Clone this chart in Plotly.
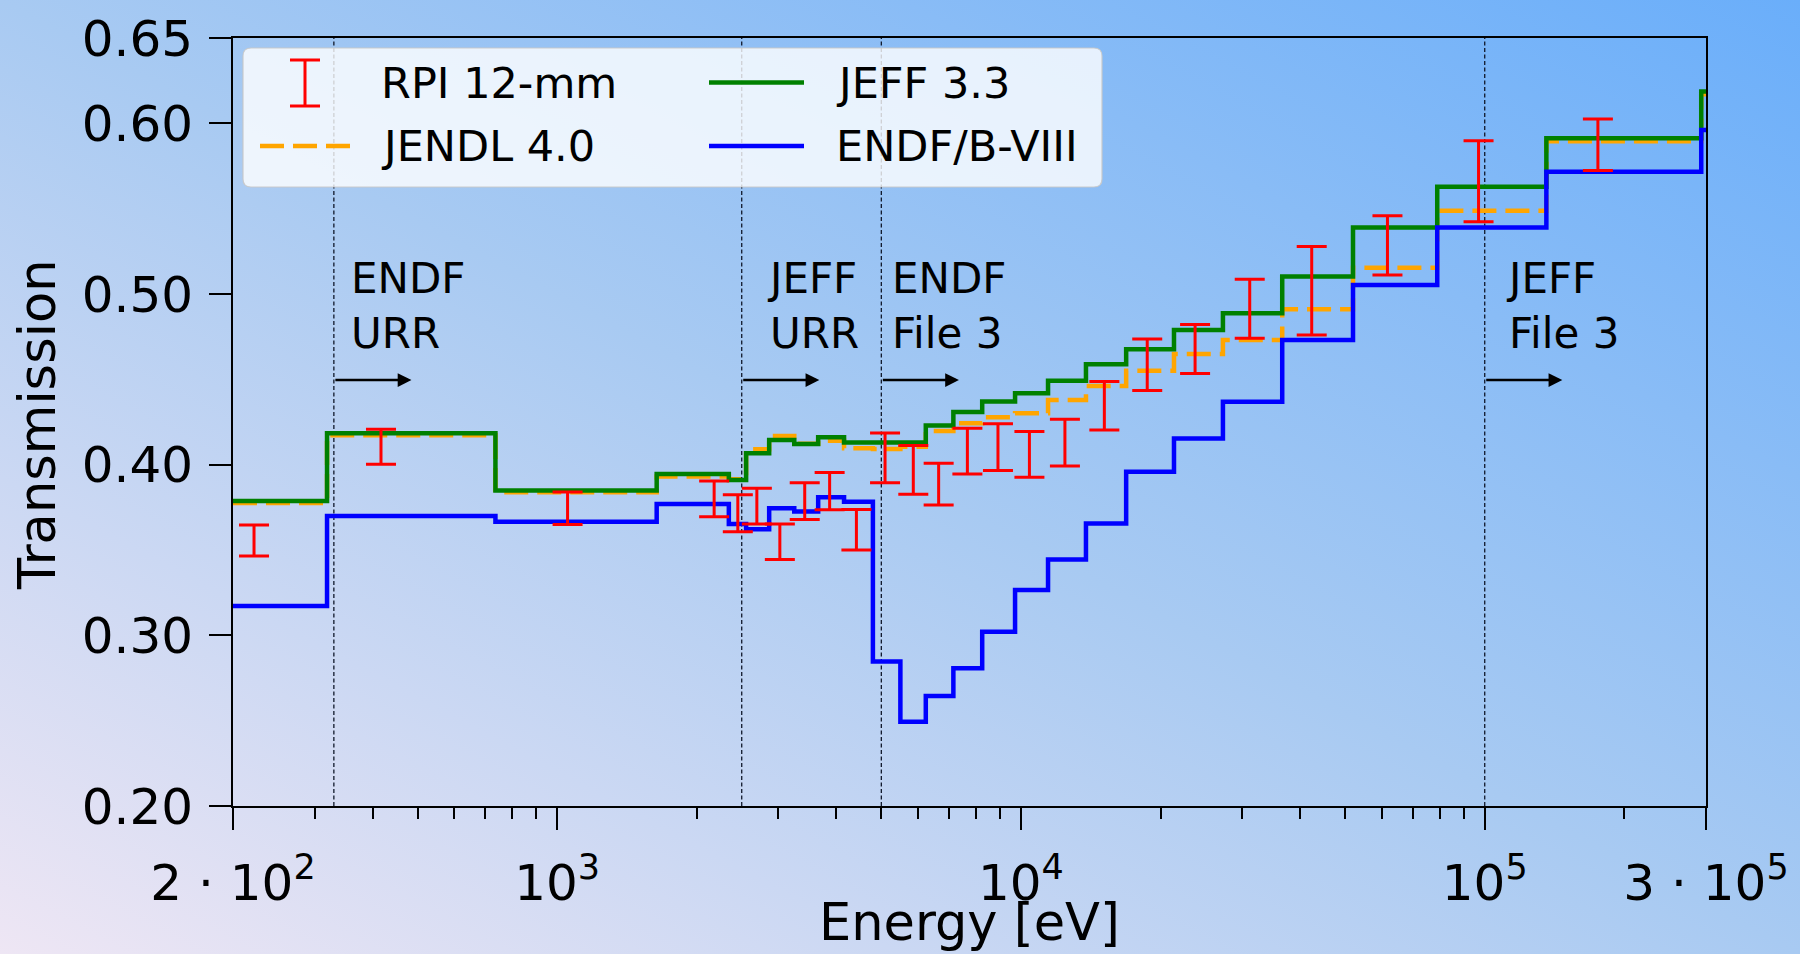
import base64
import math
import plotly.graph_objects as go

# ---------------- data ----------------
bin_edges = [200, 319, 736, 1639, 2345, 2555, 2865, 3245, 3654, 4155, 4795, 5496,
             6235, 7150, 8250, 9712, 11440, 13810, 16860, 21380, 27260, 36590,
             52000, 79000, 135800, 293000, 300000]

jeff33 = [0.3787, 0.4184, 0.3848, 0.3945, 0.3910, 0.4067, 0.4145, 0.4121, 0.4160,
          0.4130, 0.4130, 0.4130, 0.4230, 0.4308, 0.4370, 0.4418, 0.4492, 0.4588,
          0.4676, 0.4789, 0.4887, 0.5102, 0.5389, 0.5629, 0.5912, 0.6186]

endf8 = [0.3172, 0.3699, 0.3666, 0.3770, 0.3652, 0.3621, 0.3745, 0.3725, 0.3809,
         0.3783, 0.2846, 0.2494, 0.2645, 0.2807, 0.3021, 0.3266, 0.3445, 0.3656,
         0.3959, 0.4154, 0.4369, 0.4730, 0.5053, 0.5389, 0.5717, 0.5961]

jendl40 = [0.3775, 0.4172, 0.3838, 0.3930, 0.3915, 0.4090, 0.4168, 0.4122, 0.4140,
           0.4096, 0.4092, 0.4105, 0.4197, 0.4242, 0.4278, 0.4301, 0.4379, 0.4461,
           0.4551, 0.4648, 0.4730, 0.4910, 0.5154, 0.5488, 0.5895, 0.6170]

rpi_energy = [222, 417, 1053, 2180, 2452, 2695, 3021, 3418, 3868, 4418, 5093, 5860,
              6646, 7665, 8922, 10430, 12440, 15130, 18720, 23740, 31140, 42360,
              61700, 96980, 175400]
rpi_trans = [0.3556, 0.4105, 0.3745, 0.3800, 0.3715, 0.3757, 0.3549, 0.3786, 0.3845,
             0.3619, 0.4040, 0.3970, 0.3886, 0.4079, 0.4103, 0.4060, 0.4129, 0.4345,
             0.4585, 0.4678, 0.4913, 0.5019, 0.5285, 0.5661, 0.5874]
rpi_err = [0.0091, 0.0103, 0.0095, 0.0105, 0.0108, 0.0105, 0.0104, 0.0108, 0.0109,
           0.0119, 0.0146, 0.0143, 0.0122, 0.0134, 0.0137, 0.0134, 0.0137, 0.0142,
           0.0151, 0.0144, 0.0173, 0.0259, 0.0174, 0.0237, 0.0151]

region_edges = [330, 2500, 5000, 1e5]
region_label_energy = [361, 2850, 5300, 111700]
region_labels = ["ENDF<br>URR", "JEFF<br>URR", "ENDF<br>File 3", "JEFF<br>File 3"]
arrow_factor = 1.47
arrow_level = 0.4496
label_level = 0.493

x_range = [200, 3e5]
y_range = [0.20, 0.65]
x_tickvals = [200, 1e3, 1e4, 1e5, 3e5]
x_ticktext = ["2 · 10<sup>2</sup>", "10<sup>3</sup>", "10<sup>4</sup>",
              "10<sup>5</sup>", "3 · 10<sup>5</sup>"]
y_tickvals = [0.20, 0.30, 0.40, 0.50, 0.60, 0.65]
y_ticktext = ["0.20", "0.30", "0.40", "0.50", "0.60", "0.65"]

legend_names = ["RPI 12-mm", "JENDL 4.0", "JEFF 3.3", "ENDF/B-VIII"]
x_title = "Energy [eV]"
y_title = "Transmission"

# ---------------- styling ----------------
FONT = "DejaVu Sans"
W, H = 1800, 954
M_L, M_R, M_T, M_B = 233, 94, 38, 148
PW, PH = W - M_L - M_R, H - M_T - M_B

C_RED, C_ORANGE, C_GREEN, C_BLUE = "#ff0000", "#ffa500", "#008000", "#0000ff"
LW = 4.5
ORANGE_DASH = "24px,9px"

minor_vals = [m * 10 ** k for k in range(2, 6) for m in range(1, 10)
              if x_range[0] < m * 10 ** k < x_range[1] and m * 10 ** k not in x_tickvals]

def px_x(px):
    return (px - M_L) / PW

def px_y(py):
    return 1 - (py - M_T) / PH

# background gradient as an inline SVG image
svg = f"""<svg xmlns="http://www.w3.org/2000/svg" width="{W}" height="{H}" viewBox="0 0 {W} {H}" preserveAspectRatio="none">
<defs><linearGradient id="g" x1="0" y1="1" x2="1" y2="0">
<stop offset="0" stop-color="#eee6f4"/>
<stop offset="0.5" stop-color="#a8caf2"/>
<stop offset="1" stop-color="#6aaefa"/>
</linearGradient></defs>
<rect width="{W}" height="{H}" fill="url(#g)"/></svg>"""
bg_uri = "data:image/svg+xml;base64," + base64.b64encode(svg.encode()).decode()

fig = go.Figure()

# region boundary lines
vx, vy = [], []
for e in region_edges:
    vx += [e, e, None]
    vy += [y_range[0], y_range[1], None]
fig.add_trace(go.Scatter(x=vx, y=vy, mode="lines", hoverinfo="skip",
                         line=dict(color="#10182a", width=1.3, dash="4px,2.5px")))

def step_xy(values):
    return bin_edges, list(values) + [values[-1]]

x, y = step_xy(jendl40)
fig.add_trace(go.Scatter(x=x, y=y, mode="lines", line_shape="hv", name=legend_names[1],
                         line=dict(color=C_ORANGE, width=LW, dash=ORANGE_DASH)))
x, y = step_xy(jeff33)
fig.add_trace(go.Scatter(x=x, y=y, mode="lines", line_shape="hv", name=legend_names[2],
                         line=dict(color=C_GREEN, width=LW)))
x, y = step_xy(endf8)
fig.add_trace(go.Scatter(x=x, y=y, mode="lines", line_shape="hv", name=legend_names[3],
                         line=dict(color=C_BLUE, width=LW)))
fig.add_trace(go.Scatter(x=rpi_energy, y=rpi_trans, mode="markers", name=legend_names[0],
                         marker=dict(size=2, color=C_RED, opacity=0),
                         error_y=dict(type="data", array=rpi_err, color=C_RED,
                                      thickness=3, width=15)))

# region labels and arrows
for e, le, lab in zip(region_edges, region_label_energy, region_labels):
    fig.add_annotation(x=math.log10(e * arrow_factor), y=arrow_level,
                       ax=math.log10(e), ay=arrow_level, xref="x", yref="y",
                       axref="x", ayref="y", text="", showarrow=True, arrowhead=2,
                       arrowsize=1.1, arrowwidth=2.5, arrowcolor="black",
                       standoff=0, startstandoff=0)
    fig.add_annotation(x=math.log10(le), y=label_level, xref="x", yref="y", text=lab,
                       showarrow=False, xanchor="left", yanchor="middle", align="left",
                       xshift=-3, font=dict(size=42, family=FONT, color="black"))

# axis titles
fig.add_annotation(x=0.5, y=px_y(922), xref="paper", yref="paper", text=x_title,
                   showarrow=False, xanchor="center", yanchor="middle",
                   font=dict(size=51, family=FONT, color="black"))
fig.add_annotation(x=px_x(37), y=px_y(425), xref="paper", yref="paper", text=y_title,
                   showarrow=False, xanchor="center", yanchor="middle", textangle=-90,
                   font=dict(size=51, family=FONT, color="black"))

# ---------------- manual legend ----------------
bx0, bx1, by0, by1 = px_x(243), px_x(1102), px_y(187), px_y(48)
rx, ry = 8 / PW, 8 / PH
box_path = (f"M{bx0+rx},{by1} L{bx1-rx},{by1} Q{bx1},{by1} {bx1},{by1-ry} "
            f"L{bx1},{by0+ry} Q{bx1},{by0} {bx1-rx},{by0} L{bx0+rx},{by0} "
            f"Q{bx0},{by0} {bx0},{by0+ry} L{bx0},{by1-ry} Q{bx0},{by1} {bx0+rx},{by1} Z")
shapes = [dict(type="path", path=box_path, xref="paper", yref="paper", layer="above",
               fillcolor="rgba(255,255,255,0.8)",
               line=dict(color="rgba(200,200,200,0.9)", width=1.2))]
row1, row2 = 82.5, 146
cx = 305
for (xa, ya, xb, yb) in [(cx, 60, cx, 106), (cx - 15, 60, cx + 15, 60), (cx - 15, 106, cx + 15, 106)]:
    shapes.append(dict(type="line", xref="paper", yref="paper", layer="above",
                       x0=px_x(xa), y0=px_y(ya), x1=px_x(xb), y1=px_y(yb),
                       line=dict(color=C_RED, width=3)))
shapes.append(dict(type="line", xref="paper", yref="paper", layer="above",
                   x0=px_x(260), x1=px_x(350), y0=px_y(row2), y1=px_y(row2),
                   line=dict(color=C_ORANGE, width=LW, dash=ORANGE_DASH)))
shapes.append(dict(type="line", xref="paper", yref="paper", layer="above",
                   x0=px_x(709), x1=px_x(804), y0=px_y(row1), y1=px_y(row1),
                   line=dict(color=C_GREEN, width=LW)))
shapes.append(dict(type="line", xref="paper", yref="paper", layer="above",
                   x0=px_x(709), x1=px_x(804), y0=px_y(row2), y1=px_y(row2),
                   line=dict(color=C_BLUE, width=LW)))
for name, (tx, ty) in zip(legend_names, [(381, row1), (381, row2), (836, row1), (836, row2)]):
    fig.add_annotation(x=px_x(tx), y=px_y(ty), xref="paper", yref="paper", text=name,
                       showarrow=False, xanchor="left", yanchor="middle",
                       xshift=-2, font=dict(size=43, family=FONT, color="black"))

# ---------------- layout ----------------
lx = [math.log10(v) for v in x_range]
fig.update_layout(
    template="none",
    width=W, height=H,
    margin=dict(l=M_L, r=M_R, t=M_T, b=M_B, pad=0),
    paper_bgcolor="white", plot_bgcolor="rgba(0,0,0,0)",
    showlegend=False,
    font=dict(family=FONT, color="black"),
    shapes=shapes,
    images=[dict(source=bg_uri, xref="paper", yref="paper", x=-M_L / PW, y=1 + M_T / PH,
                 sizex=W / PW, sizey=H / PH, xanchor="left", yanchor="top",
                 sizing="stretch", layer="below")],
    xaxis=dict(type="log", range=lx, tickmode="array", tickvals=x_tickvals,
               ticktext=x_ticktext, ticks="outside", ticklen=22, tickwidth=2,
               tickcolor="black", showline=True, linecolor="black", linewidth=2,
               mirror=True, showgrid=False, zeroline=False, automargin=False,
               ticklabelstandoff=10,
               tickfont=dict(size=50, family=FONT, color="black"),
               minor=dict(tickmode="array", tickvals=minor_vals, ticks="outside",
                          ticklen=11, tickwidth=1.6, tickcolor="black", showgrid=False)),
    xaxis2=dict(type="log", range=lx, overlaying="x", side="top", anchor="y",
                tickmode="array", tickvals=x_tickvals, ticks="inside", ticklen=22,
                tickwidth=2, tickcolor="black", showticklabels=False, showline=False,
                showgrid=False, zeroline=False, automargin=False,
                minor=dict(tickmode="array", tickvals=minor_vals, ticks="inside",
                           ticklen=11, tickwidth=1.6, tickcolor="black", showgrid=False)),
    yaxis=dict(range=y_range, tickmode="array", tickvals=y_tickvals, ticktext=y_ticktext,
               ticks="outside", ticklen=22, tickwidth=2, tickcolor="black",
               showline=True, linecolor="black", linewidth=2, mirror=True,
               showgrid=False, zeroline=False, automargin=False,
               ticklabelstandoff=6,
               tickfont=dict(size=50, family=FONT, color="black")),
    yaxis2=dict(range=y_range, overlaying="y", side="right", anchor="x",
                tickmode="array", tickvals=y_tickvals, ticks="inside", ticklen=22,
                tickwidth=2, tickcolor="black", showticklabels=False, showline=False,
                showgrid=False, zeroline=False, automargin=False),
)

fig.write_html("out.html", config={"displayModeBar": False},
               post_script="document.body.style.margin='0';document.body.style.overflow='hidden';")
